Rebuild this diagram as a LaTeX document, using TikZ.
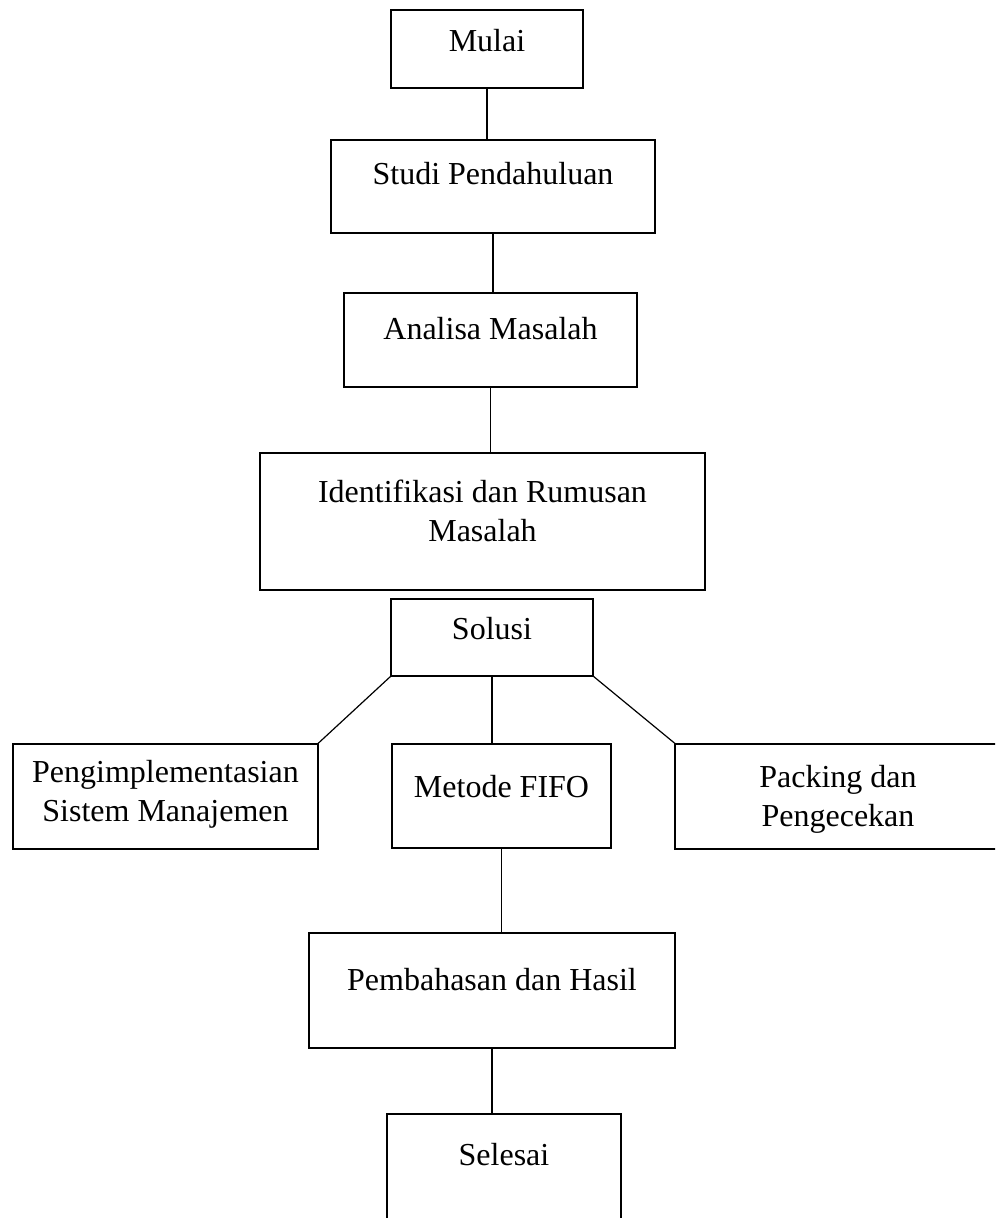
\documentclass[tikz,border=0pt]{standalone}
\usepackage{fontspec}
\setmainfont{Liberation Serif}
\usepackage{tikz}
\usetikzlibrary{positioning}

\begin{document}
\begin{tikzpicture}[
	flowbox/.style={draw, line width=1pt, inner sep=0pt, outer sep=0pt,
		align=center, font=\fontsize{16}{19.5}\selectfont},
	link/.style={draw, line width=0.6pt}
]
\useasboundingbox (0,0) rectangle (497.5pt,-609pt);
\clip (0,0) rectangle (497.5pt,-609pt);

\node[
	flowbox,
	minimum width=96pt,
	text height=21pt,
	text depth=18pt,
	anchor=north
] (mulai) at (243.5pt,-5pt) {Mulai};

\node[
	flowbox,
	minimum width=162pt,
	text height=22.5pt,
	text depth=24pt,
	below=26pt of mulai,
	xshift=3pt
] (studi) {Studi Pendahuluan};

\node[
	flowbox,
	minimum width=146.5pt,
	text height=23.5pt,
	text depth=23.5pt,
	below=30pt of studi,
	xshift=-1.25pt
] (analisa) {Analisa Masalah};

\node[
	flowbox,
	minimum width=222.5pt,
	text height=44pt,
	text depth=24.5pt,
	below=33pt of analisa,
	xshift=-4pt
] (identifikasi) {Identifikasi dan Rumusan\\Masalah};

\node[
	flowbox,
	minimum width=101pt,
	text height=20pt,
	text depth=18.5pt,
	below=4.5pt of identifikasi,
	xshift=4.75pt
] (solusi) {Solusi};

\node[
	flowbox,
	minimum width=109.5pt,
	text height=26.5pt,
	text depth=25.5pt,
	below=34pt of solusi,
	xshift=4.75pt
] (metode) {Metode FIFO};

\node[
	flowbox,
	minimum width=152.5pt,
	text height=39pt,
	text depth=13.5pt,
	left=37pt of metode
] (implementasi) {Pengimplementasian\\Sistem Manajemen};

\node[
	flowbox,
	minimum width=163pt,
	text height=41.5pt,
	text depth=11pt,
	right=32pt of metode
] (packing) {Packing dan\\Pengecekan};

\node[
	flowbox,
	minimum width=183pt,
	text height=28.5pt,
	text depth=29pt,
	below=42.5pt of metode,
	xshift=-4.75pt
] (pembahasan) {Pembahasan dan Hasil};

\node[
	flowbox,
	minimum width=117pt,
	text height=25.5pt,
	text depth=30pt,
	below=33pt of pembahasan,
	xshift=6pt
] (selesai) {Selesai};

% ---

\path[link] (mulai.south) -- (mulai.south |- studi.north);
\path[link] (studi.south) -- (studi.south |- analisa.north);
\path[link] (analisa.south) -- (analisa.south |- identifikasi.north);

% ---

\path[link] (solusi.south west) -- (implementasi.north east);
\path[link] (solusi.south) -- (solusi.south |- metode.north);
\path[link] (solusi.south east) -- (packing.north west);

% ---

\path[link] (metode.south) -- (metode.south |- pembahasan.north);
\path[link] (pembahasan.south) -- (pembahasan.south |- selesai.north);

\end{tikzpicture}
\end{document}
